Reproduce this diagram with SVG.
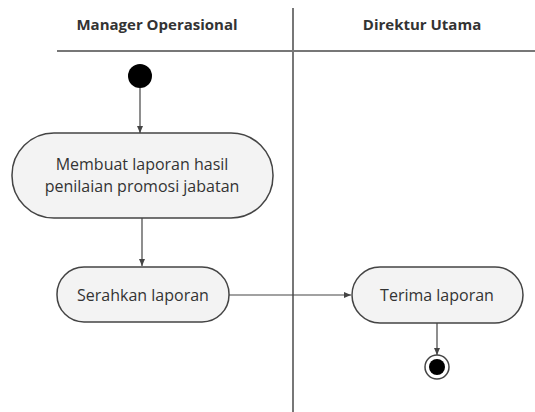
<svg xmlns="http://www.w3.org/2000/svg" width="535" height="412" viewBox="0 0 535 412">
<defs>
<marker id="arr" markerWidth="8" markerHeight="8" refX="7" refY="4" orient="auto" markerUnits="userSpaceOnUse">
<path d="M0,1 L7,4 L0,7 Z" fill="#444"/>
</marker>
<style>
.lane{stroke:#777;stroke-width:2;fill:none}
.act{fill:#f3f3f3;stroke:#444;stroke-width:1.5}
.t{font-family:"Open Sans","Liberation Sans",sans-serif;font-size:16px;fill:#333;text-anchor:middle}
.h{font-family:"Open Sans","Liberation Sans",sans-serif;font-size:15px;font-weight:bold;fill:#333;text-anchor:middle}
.c{stroke:#444;stroke-width:1.2;fill:none;marker-end:url(#arr)}
</style>
</defs>
<rect width="535" height="412" fill="#fff"/>
<g id="swimlanes">
<line class="lane" x1="57" y1="51" x2="535" y2="51"/>
<line class="lane" x1="293" y1="8" x2="293" y2="412"/>
<text class="h" x="157" y="30">Manager Operasional</text>
<text class="h" x="422" y="30">Direktur Utama</text>
</g>
<g id="connectors">
<line class="c" x1="140" y1="88" x2="140" y2="133"/>
<line class="c" x1="142" y1="218" x2="142" y2="266"/>
<line class="c" x1="229" y1="295" x2="351" y2="295"/>
<line class="c" x1="437" y1="323" x2="437" y2="355"/>
</g>
<g id="start">
<circle cx="140" cy="76" r="12" fill="#000"/>
</g>
<g id="act1">
<rect class="act" x="12" y="133" width="261" height="85" rx="42"/>
<text class="t" x="142" y="170">Membuat laporan hasil</text>
<text class="t" x="142" y="192">penilaian promosi jabatan</text>
</g>
<g id="act2">
<rect class="act" x="57" y="267" width="172" height="55" rx="27"/>
<text class="t" x="143" y="301">Serahkan laporan</text>
</g>
<g id="act3">
<rect class="act" x="352" y="267" width="171" height="56" rx="28"/>
<text class="t" x="437" y="301">Terima laporan</text>
</g>
<g id="end">
<circle cx="437" cy="367" r="12" fill="#fff" stroke="#444" stroke-width="1.5"/>
<circle cx="437" cy="367" r="8" fill="#000"/>
</g>
</svg>
